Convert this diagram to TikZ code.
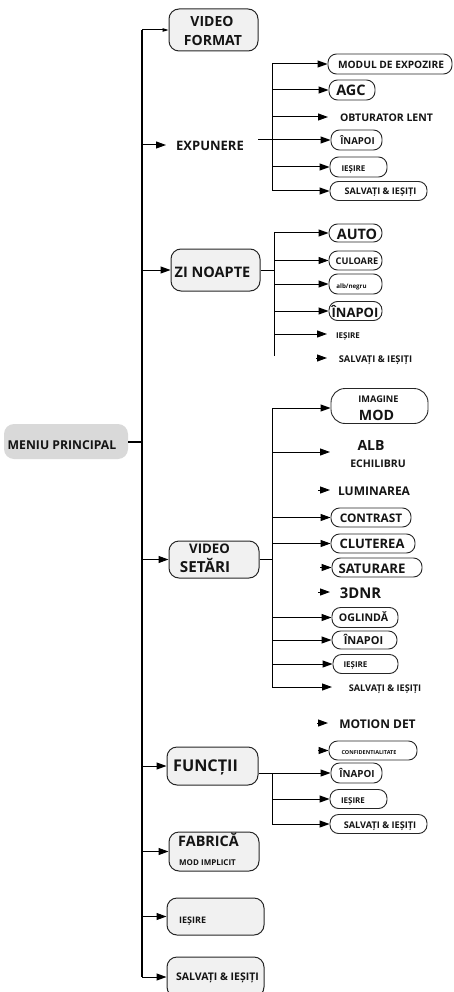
\documentclass[tikz,border=0pt]{standalone}
\usepackage{fontspec}
\setmainfont{Open Sans}
\usetikzlibrary{arrows.meta}
\definecolor{boxfill}{HTML}{F1F1F1}
\definecolor{menufill}{HTML}{D9D9D9}
\newcommand\fz[1]{\fontsize{#1}{#1}\selectfont\bfseries}
% box: style, name, cx, cy(down), w, h
\newcommand\bx[6]{\node[#1, minimum width=#5pt, minimum height=#6pt] (#2) at (#3,-#4) {};}
% centred label: name, cx, cy(down), size, text
\newcommand\lb[5]{\node[lbl, font=\fz{#4}] (#1) at (#2,{-#3-0.36*#4}) {#5};}
% left-aligned label
\newcommand\lbw[5]{\node[lbl, anchor=base west, font=\fz{#4}] (#1) at (#2,{-#3-0.36*#4}) {#5};}
\begin{document}
\begin{tikzpicture}[x=1pt,y=1pt,
  ln/.style={line width=1pt},
  arr/.style={line width=1pt,-{Triangle[length=10pt,width=7pt]}},
  mbox/.style={draw=black!85, line width=1pt, fill=boxfill, rounded corners=10pt, inner sep=0},
  sbox/.style={draw=black!85, line width=0.9pt, fill=white, rounded corners=8.5pt, inner sep=0},
  menubox/.style={fill=menufill, rounded corners=10pt, inner sep=0},
  lbl/.style={inner sep=0, anchor=base, text=black!92}]
\useasboundingbox (0,0) rectangle (454,-992);
\clip (0,0) rectangle (454,-992);

% ---------- main menu ----------
\node[menubox, minimum width=124pt, minimum height=35pt] (menu) at (66,-441.5) {};
\lb{menut}{62}{445}{12.2}{MENIU PRINCIPAL}

% ---------- level 1 boxes ----------
\bx{mbox}{vf}{213.5}{30}{89}{42}
\lb{vft1}{212}{21}{14}{VIDEO}
\lb{vft2}{213}{40}{14}{FORMAT}

\lb{exp}{210}{146}{13}{EXPUNERE}
\coordinate (expA) at (166,-145);

\bx{mbox}{zi}{215.5}{270}{89}{42}
\lb{zit}{212.5}{272}{14.5}{ZI NOAPTE}

\bx{mbox}{vs}{214}{559.5}{90}{37}
\lb{vst1}{209.5}{549}{13.2}{VIDEO}
\lb{vst2}{205}{567}{15.2}{SETĂRI}

\bx{mbox}{fn}{212.5}{766}{91}{38}
\lb{fnt}{205.5}{766}{16.2}{FUNCȚII}

\bx{mbox}{fab}{214}{851.5}{90}{39}
\lbw{fabt1}{178}{841}{14.4}{FABRICĂ}
\lbw{fabt2}{179}{863}{8}{MOD IMPLICIT}

\bx{mbox}{mies}{215.5}{916.5}{97}{37}
\lbw{miest}{179}{920}{9}{IEȘIRE}

\bx{mbox}{msal}{215.5}{977}{97}{40}
\lb{msalt}{217.5}{977}{10.5}{SALVAȚI \& IEȘIȚI}

% ---------- main trunk ----------
\coordinate (mtop) at (142,-30);
\draw[line width=1.2pt] (mtop) -- (msal.west -| mtop);
\draw[line width=2pt] (menu.east) -- (menu.east -| mtop);
\draw[ln,-{Triangle[length=6pt,width=3.5pt]}] (mtop) -- (vf.west);
\draw[arr] (expA -| mtop) -- (expA);
\draw[arr] (zi.west -| mtop) -- (zi.west);
\draw[arr] (vs.west -| mtop) -- (vs.west);
\draw[arr] (fn.west -| mtop) -- (fn.west);
\draw[arr] (fab.west -| mtop) -- (fab.west);
\draw[arr] (mies.west -| mtop) -- (mies.west);
\draw[arr] (msal.west -| mtop) -- (msal.west);

% ---------- EXPUNERE group ----------
\coordinate (ev1) at (272,-64);
\coordinate (ev2) at (272,-191);
\draw[ln] (ev1) -- (ev2);
\bx{sbox}{emod}{390}{64}{124}{20}
\lb{emodt}{391}{64.5}{10.2}{MODUL DE EXPOZIRE}
\bx{sbox}{eagc}{352}{90}{46}{20}
\lb{eagct}{351}{90}{14.5}{AGC}
\coordinate (eobtA) at (328,-117);
\lb{eobt}{386.5}{117.5}{10.5}{OBTURATOR LENT}
\bx{sbox}{einap}{356.5}{140}{51}{20}
\lb{einapt}{357.5}{141}{9.6}{ÎNAPOI}
\coordinate (e0) at (258,-140);
\bx{sbox}{eies}{358.5}{167}{57}{20}
\lb{eiest}{353.5}{169}{8}{IEȘIRE}
\bx{sbox}{esal}{378.5}{191}{97}{19}
\lb{esalt}{380.5}{191}{9.1}{SALVAȚI \& IEȘIȚI}
\draw[arr] (emod.west -| ev1) -- (emod.west);
\draw[arr] (eagc.west -| ev1) -- (eagc.west);
\draw[arr] (eobtA -| ev1) -- (eobtA);
\draw[arr] (e0) -- (einap.west);
\draw[arr] (eies.west -| ev1) -- (eies.west);
\draw[arr] (esal.west -| ev1) -- (esal.west);

% ---------- ZI NOAPTE group ----------
\coordinate (zv1) at (274,-232);
\coordinate (zv2) at (274,-356);
\draw[ln] (zv1) -- (zv2);
\draw[ln] (zi.east) -- (zi.east -| zv1);
\bx{sbox}{zauto}{355.5}{233}{53}{18}
\lb{zautot}{357}{234.5}{14.4}{AUTO}
\bx{sbox}{zcul}{355.5}{260.5}{53}{19}
\lb{zcult}{357}{261}{9.2}{CULOARE}
\bx{sbox}{zalb}{355.5}{284}{53}{20}
\lb{zalbt}{351.5}{286.5}{6.2}{alb/negru}
\bx{sbox}{zinap}{355.5}{311}{53}{19}
\lb{zinapt}{355}{312.5}{13}{ÎNAPOI}
\coordinate (ziesA) at (327,-334);
\lb{ziest}{348}{336}{8}{IEȘIRE}
\coordinate (zsalA) at (316,-358);
\coordinate (zsalB) at (327,-358);
\lb{zsalt}{375.5}{359}{9.3}{SALVAȚI \& IEȘIȚI}
\draw[arr] (zauto.west -| zv1) -- (zauto.west);
\draw[arr] (zcul.west -| zv1) -- (zcul.west);
\draw[arr] (zalb.west -| zv1) -- (zalb.west);
\draw[arr] (zinap.west -| zv1) -- (zinap.west);
\draw[arr] (ziesA -| zv1) -- (ziesA);
\draw[arr] (zsalA) -- (zsalB);

% ---------- VIDEO SETARI group ----------
\coordinate (vv1) at (272,-408);
\coordinate (vv2) at (272,-687);
\draw[ln] (vv1) -- (vv2);
\draw[ln] (vs.east) -- (vs.east -| vv1);
\bx{sbox, rounded corners=14pt}{vimg}{379.5}{406}{97}{35}
\lb{vimgt1}{378.5}{399}{9.2}{IMAGINE}
\lb{vimgt2}{376.5}{415}{14.2}{MOD}
\coordinate (valbA) at (330,-452);
\lb{valbt1}{371}{445}{14}{ALB}
\lb{valbt2}{378}{464}{10.5}{ECHILIBRU}
\coordinate (vlumA) at (318,-490);
\coordinate (vlumB) at (330,-490);
\lb{vlumt}{374}{491}{12}{LUMINAREA}
\bx{sbox}{vcon}{371}{517.5}{80}{19}
\lb{vcont}{371}{518}{11.8}{CONTRAST}
\bx{sbox}{vclu}{373}{543.5}{84}{19}
\lb{vclut}{372}{544}{13}{CLUTEREA}
\bx{sbox}{vsat}{377}{567.5}{90}{19}
\coordinate (vsatA) at (320,-567.5);
\lb{vsatt}{372}{569}{13.2}{SATURARE}
\coordinate (v3A) at (318,-592);
\coordinate (v3B) at (330,-592);
\lb{v3t}{360.5}{593}{14.8}{3DNR}
\bx{sbox}{vogl}{365}{617.5}{66}{20}
\lb{voglt}{363.5}{618}{10.6}{OGLINDĂ}
\bx{sbox}{vinap}{364.5}{640}{65}{18}
\lb{vinapt}{363.5}{641}{11}{ÎNAPOI}
\bx{sbox}{vies}{365.5}{664}{65}{19}
\lb{viest}{355.5}{665}{8}{IEȘIRE}
\coordinate (vsalA) at (332,-687);
\lb{vsalt}{385}{688}{9.2}{SALVAȚI \& IEȘIȚI}
\draw[arr] (vv1) -- (vv1 -| vimg.west);
\draw[arr] (valbA -| vv1) -- (valbA);
\draw[arr] (vlumA) -- (vlumB);
\draw[arr] (vcon.west -| vv1) -- (vcon.west);
\draw[arr] (vclu.west -| vv1) -- (vclu.west);
\draw[arr] (vsatA) -- (vsat.west);
\draw[arr] (v3A) -- (v3B);
\draw[arr] (vogl.west -| vv1) -- (vogl.west);
\draw[arr] (vinap.west -| vv1) -- (vinap.west);
\draw[arr] (vies.west -| vv1) -- (vies.west);
\draw[arr] (vv2) -- (vsalA);

% ---------- FUNCTII group ----------
\coordinate (fv1) at (272,-773);
\coordinate (fv2) at (272,-824);
\draw[ln] (fv1) -- (fv2);
\coordinate (fmotA) at (317,-723);
\coordinate (fmotB) at (328,-723);
\lb{fmott}{377.5}{724}{12}{MOTION DET}
\bx{sbox}{fconf}{373}{750.5}{88}{19}
\coordinate (fconfA) at (318,-750.5);
\lb{fconft}{369}{753}{5.5}{CONFIDENTIALITATE}
\bx{sbox}{finap}{356.5}{773}{51}{20}
\lb{finapt}{357}{774}{9.8}{ÎNAPOI}
\bx{sbox}{fies}{358.5}{799}{57}{19}
\lb{fiest}{353}{801}{8}{IEȘIRE}
\bx{sbox}{fsal}{378.5}{824}{97}{19}
\lb{fsalt}{380}{825}{9.2}{SALVAȚI \& IEȘIȚI}
\draw[arr] (fmotA) -- (fmotB);
\draw[arr] (fconfA) -- (fconf.west);
\draw[arr] ([yshift=-7pt]fn.east) -- (finap.west);
\draw[arr] (fies.west -| fv1) -- (fies.west);
\draw[arr] (fsal.west -| fv1) -- (fsal.west);
\end{tikzpicture}
\end{document}
